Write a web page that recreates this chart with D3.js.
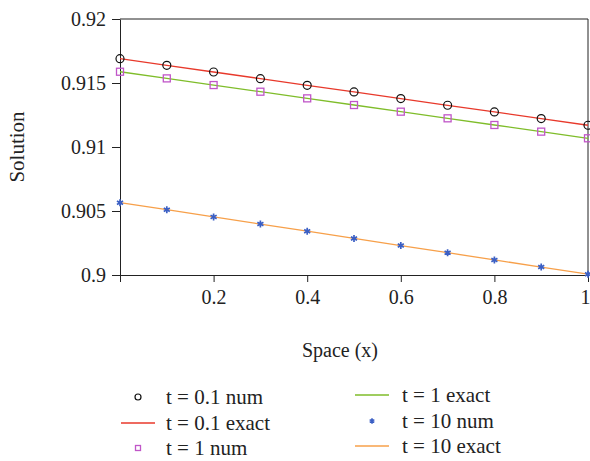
<!DOCTYPE html>
<html>
<head>
<meta charset="utf-8">
<script src="https://cdn.jsdelivr.net/npm/d3@7"></script>
<style>
  body { margin: 0; background: #fff; }
  svg { display: block; font-family: "Liberation Serif", "DejaVu Serif", serif; }
</style>
</head>
<body>
<div id="chart"></div>
<script>
// Solution vs space, numerical and exact, for three times

const xs = [0, 0.1, 0.2, 0.3, 0.4, 0.5, 0.6, 0.7, 0.8, 0.9, 1];

// t = 0.1
const num01 = [0.9169, 0.91638, 0.91586, 0.91534, 0.91482, 0.9143, 0.91378, 0.91326, 0.91274, 0.91222, 0.9117];
const exact01 = [0.9169, 0.91638, 0.91586, 0.91534, 0.91482, 0.9143, 0.91378, 0.91326, 0.91274, 0.91222, 0.9117];
// t = 1
const num1 = [0.91588, 0.91536, 0.91484, 0.91432, 0.9138, 0.91328, 0.91276, 0.91224, 0.91172, 0.9112, 0.91068];
const exact1 = [0.91588, 0.91536, 0.91484, 0.91432, 0.9138, 0.91328, 0.91276, 0.91224, 0.91172, 0.9112, 0.91068];
// t = 10
const num10 = [0.90565, 0.9051, 0.90454, 0.90398, 0.90342, 0.90286, 0.9023, 0.90174, 0.90118, 0.90062, 0.90006];
const exact10 = [0.90565, 0.9051, 0.90454, 0.90398, 0.90342, 0.90286, 0.9023, 0.90174, 0.90118, 0.90062, 0.90006];

const xTicks = [0, 0.2, 0.4, 0.6, 0.8, 1];
const xTickLabels = ["", "0.2", "0.4", "0.6", "0.8", "1"];
const yTicks = [0.9, 0.905, 0.91, 0.915, 0.92];
const yTickLabels = ["0.9", "0.905", "0.91", "0.915", "0.92"];

const width = 590, height = 461;
const plotLeft = 120, plotRight = 588, plotTop = 19, plotBottom = 275;

const svg = d3.select('#chart').append('svg')
  .attr('width', width)
  .attr('height', height);

const x = d3.scaleLinear().domain([0, 1]).range([plotLeft, plotRight]);
const y = d3.scaleLinear().domain([0.9, 0.92]).range([plotBottom, plotTop]);

// frame lines (top and right)
svg.append('line')
  .attr('x1', plotLeft).attr('x2', plotRight).attr('y1', plotTop).attr('y2', plotTop)
  .attr('stroke', '#222').attr('stroke-width', 1);
svg.append('line')
  .attr('x1', plotRight).attr('x2', plotRight).attr('y1', plotTop).attr('y2', plotBottom)
  .attr('stroke', '#222').attr('stroke-width', 1);

// axes
const xAxis = d3.axisBottom(x)
  .tickValues(xTicks)
  .tickFormat((d, i) => xTickLabels[i])
  .tickSize(7)
  .tickPadding(8)
  .tickSizeOuter(0);
const yAxis = d3.axisLeft(y)
  .tickValues(yTicks)
  .tickFormat((d, i) => yTickLabels[i])
  .tickSize(8)
  .tickPadding(6)
  .tickSizeOuter(0);

const gx = svg.append('g').attr('transform', `translate(0,${plotBottom})`).call(xAxis);
const gy = svg.append('g').attr('transform', `translate(${plotLeft},0)`).call(yAxis);
[gx, gy].forEach(g => {
  g.selectAll('path, line').attr('stroke', '#222');
  g.selectAll('text')
    .attr('fill', '#222')
    .style('font-family', '"Liberation Serif", serif')
    .style('font-size', '20px');
});
// last x label sits at the right edge; keep it inside the page
gx.selectAll('.tick text').filter(d => d === 1)
  .attr('text-anchor', 'end')
  .attr('x', 2);

// axis titles
svg.append('text')
  .attr('x', 340).attr('y', 357)
  .attr('text-anchor', 'middle')
  .attr('fill', '#222')
  .style('font-size', '20px')
  .text('Space (x)');
svg.append('text')
  .attr('transform', 'translate(24,147) rotate(-90)')
  .attr('text-anchor', 'middle')
  .attr('fill', '#222')
  .style('font-size', '21px')
  .text('Solution');

const line = d3.line().x((d, i) => x(xs[i])).y(d => y(d));

const lines = [
  { data: exact01, color: '#e8392b' },
  { data: exact1, color: '#7fbd2a' },
  { data: exact10, color: '#f7a04a' }
];
lines.forEach(l => {
  svg.append('path')
    .datum(l.data)
    .attr('d', line)
    .attr('fill', 'none')
    .attr('stroke', l.color)
    .attr('stroke-width', 1.3);
});

// marker drawing helpers
function drawCircle(g, cx, cy) {
  g.append('circle').attr('cx', cx).attr('cy', cy).attr('r', 4)
    .attr('fill', 'none').attr('stroke', '#111').attr('stroke-width', 1.2);
}
function drawSquare(g, cx, cy) {
  g.append('rect').attr('x', cx - 3.5).attr('y', cy - 3.5).attr('width', 7).attr('height', 7)
    .attr('fill', 'none').attr('stroke', '#c056c8').attr('stroke-width', 1.3);
}
function drawStar(g, cx, cy) {
  g.append('path')
    .attr('d', d3.symbol().type(d3.symbolAsterisk).size(34)())
    .attr('transform', `translate(${cx},${cy})`)
    .attr('fill', 'none').attr('stroke', '#3b5fc4').attr('stroke-width', 1.7);
}

const points = svg.append('g');
num01.forEach((v, i) => drawCircle(points, x(xs[i]), y(v)));
num1.forEach((v, i) => drawSquare(points, x(xs[i]), y(v)));
num10.forEach((v, i) => drawStar(points, x(xs[i]), y(v)));

// legend
const legendItems = [
  { label: 't = 0.1 num', kind: 'circle', lx: 121, tx: 166, ty: 397 },
  { label: 't = 0.1 exact', kind: 'line', color: '#e8392b', lx: 121, tx: 166, ty: 423 },
  { label: 't = 1 num', kind: 'square', lx: 121, tx: 166, ty: 448 },
  { label: 't = 1 exact', kind: 'line', color: '#7fbd2a', lx: 355, tx: 402, ty: 395 },
  { label: 't = 10 num', kind: 'star', lx: 355, tx: 402, ty: 421 },
  { label: 't = 10 exact', kind: 'line', color: '#f7a04a', lx: 355, tx: 402, ty: 446 }
];
const legend = svg.append('g');
legendItems.forEach(it => {
  const cx = it.lx + 17;
  if (it.kind === 'line') {
    legend.append('line')
      .attr('x1', it.lx).attr('x2', it.lx + 34)
      .attr('y1', it.ty).attr('y2', it.ty)
      .attr('stroke', it.color).attr('stroke-width', 1.3);
  } else if (it.kind === 'circle') {
    legend.append('circle').attr('cx', cx).attr('cy', it.ty).attr('r', 3)
      .attr('fill', 'none').attr('stroke', '#111').attr('stroke-width', 1.2);
  } else if (it.kind === 'square') {
    legend.append('rect').attr('x', cx - 2.5).attr('y', it.ty - 2.5).attr('width', 5).attr('height', 5)
      .attr('fill', 'none').attr('stroke', '#c056c8').attr('stroke-width', 1.3);
  } else {
    legend.append('path')
      .attr('d', d3.symbol().type(d3.symbolAsterisk).size(20)())
      .attr('transform', `translate(${cx},${it.ty})`)
      .attr('fill', 'none').attr('stroke', '#3b5fc4').attr('stroke-width', 1.6);
  }
  legend.append('text')
    .attr('x', it.tx).attr('y', it.ty)
    .attr('dy', '0.35em')
    .attr('fill', '#222')
    .style('font-size', '21px')
    .text(it.label);
});
</script>
</body>
</html>
